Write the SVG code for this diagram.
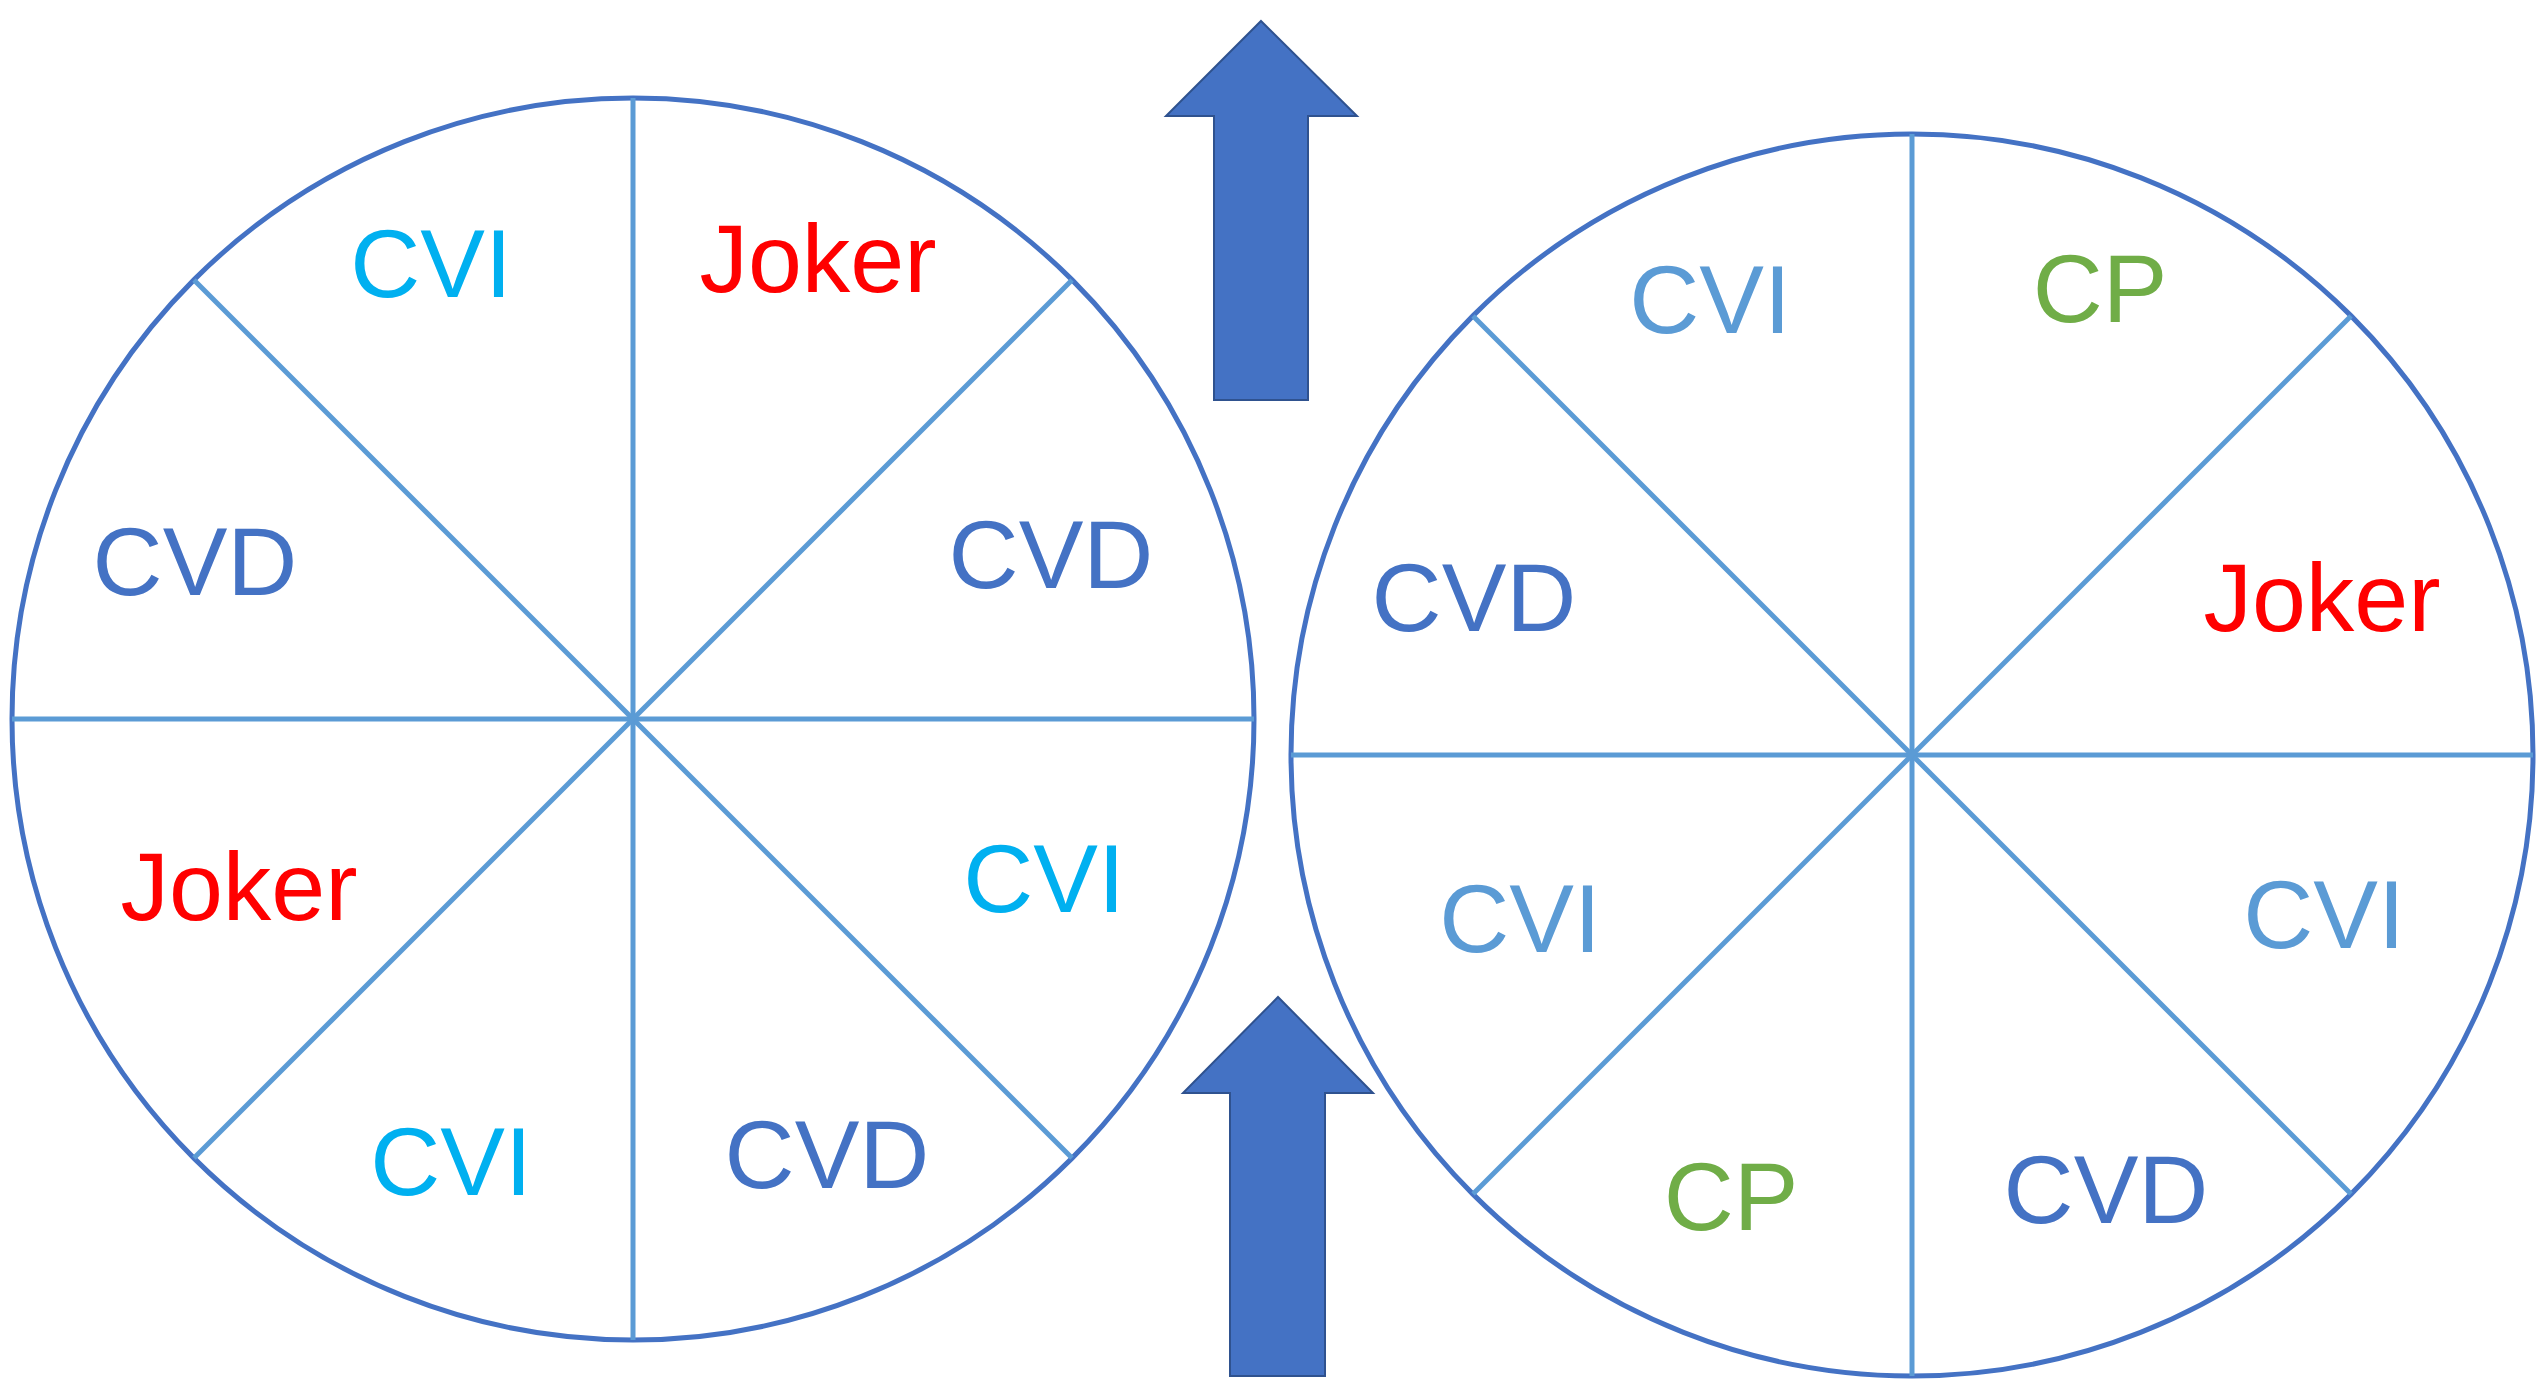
<svg xmlns="http://www.w3.org/2000/svg" width="2539" height="1382" viewBox="0 0 2539 1382">
<style>
.rim{fill:none;stroke:#4472C4;stroke-width:5}
.spoke{stroke:#5B9BD5;stroke-width:5;fill:none}
.arrow{fill:#4472C4;stroke:#2F528F;stroke-width:2}
text{font-family:"Liberation Sans","DejaVu Sans",sans-serif;font-size:97px;text-anchor:middle}
.cyan{fill:#00B0F0}.dblue{fill:#4472C4}.red{fill:#FF0000}.lblue{fill:#5B9BD5}.green{fill:#70AD47}
</style>
<rect width="2539" height="1382" fill="#ffffff"/>
<g id="wheel-left">
<circle class="rim" cx="633" cy="719" r="621"/>
<g id="spokes-left">
<line class="spoke" x1="12" y1="719" x2="1254" y2="719"/>
<line class="spoke" x1="633" y1="98" x2="633" y2="1340"/>
<line class="spoke" x1="194" y1="280" x2="1072" y2="1158"/>
<line class="spoke" x1="1072" y1="280" x2="194" y2="1158"/>
</g>
<g id="labels-left">
<text class="cyan" x="431" y="297">CVI</text>
<text class="red" x="818" y="292">Joker</text>
<text class="dblue" x="195" y="595">CVD</text>
<text class="dblue" x="1051" y="588">CVD</text>
<text class="red" x="239" y="920">Joker</text>
<text class="cyan" x="1044" y="912">CVI</text>
<text class="cyan" x="451" y="1195">CVI</text>
<text class="dblue" x="827" y="1188">CVD</text>
</g>
</g>
<g id="wheel-right">
<circle class="rim" cx="1912" cy="755" r="621"/>
<g id="spokes-right">
<line class="spoke" x1="1291" y1="755" x2="2533" y2="755"/>
<line class="spoke" x1="1912" y1="134" x2="1912" y2="1376"/>
<line class="spoke" x1="1473" y1="316" x2="2351" y2="1194"/>
<line class="spoke" x1="2351" y1="316" x2="1473" y2="1194"/>
</g>
<g id="labels-right">
<text class="lblue" x="1710" y="333">CVI</text>
<text class="green" x="2100" y="322">CP</text>
<text class="dblue" x="1474" y="631">CVD</text>
<text class="red" x="2322" y="631">Joker</text>
<text class="lblue" x="1520" y="952">CVI</text>
<text class="lblue" x="2324" y="948">CVI</text>
<text class="green" x="1731" y="1230">CP</text>
<text class="dblue" x="2106" y="1223">CVD</text>
</g>
</g>
<g id="connectors">
<polygon id="arrow-top" class="arrow" points="1261,21 1357,116 1308,116 1308,400 1214,400 1214,116 1166,116"/>
<polygon id="arrow-bottom" class="arrow" points="1278,997 1373,1093 1325,1093 1325,1376 1230,1376 1230,1093 1183,1093"/>
</g>
</svg>
